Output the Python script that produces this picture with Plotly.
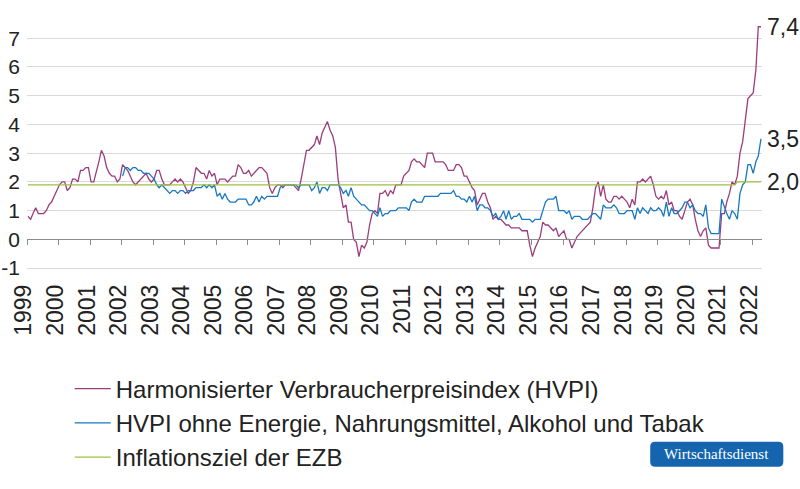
import pandas as pd
import plotly.graph_objects as go

# ---------------- data (annual rates in %) ----------------
years = [str(y) for y in range(1999, 2023)]

hvpi = (
    [0.8, 0.7, 0.9, 1.1, 0.9, 0.9, 0.9, 1.0, 1.2, 1.3, 1.5, 1.7]      # 1999
    + [1.9, 2.0, 2.0, 1.7, 1.8, 2.1, 2.1, 2.0, 2.4, 2.4, 2.5, 2.5]    # 2000
    + [2.0, 2.0, 2.3, 2.7, 3.1, 2.9, 2.5, 2.3, 2.2, 2.2, 2.0, 2.1]    # 2001
    + [2.6, 2.5, 2.4, 2.2, 2.0, 1.9, 2.0, 2.1, 2.2, 2.3, 2.1, 2.0]    # 2002
    + [2.1, 2.4, 2.4, 2.1, 1.9, 1.9, 1.9, 2.0, 2.1, 2.0, 2.1, 2.0]    # 2003
    + [1.8, 1.6, 1.7, 2.0, 2.5, 2.4, 2.3, 2.3, 2.1, 2.4, 2.2, 2.3]    # 2004
    + [1.9, 2.1, 2.1, 2.1, 2.0, 2.1, 2.2, 2.2, 2.6, 2.5, 2.3, 2.3]    # 2005
    + [2.4, 2.2, 2.3, 2.4, 2.5, 2.5, 2.4, 2.3, 1.8, 1.6, 1.8, 1.9]    # 2006
    + [1.9, 1.8, 1.9, 1.9, 1.9, 1.9, 1.8, 1.7, 2.1, 2.6, 3.1, 3.1]    # 2007
    + [3.2, 3.3, 3.6, 3.3, 3.7, 3.9, 4.1, 3.8, 3.6, 3.2, 2.1, 1.6]    # 2008
    + [1.1, 1.2, 0.6, 0.6, 0.0, -0.1, -0.6, -0.2, -0.3, -0.1, 0.5, 0.9]  # 2009
    + [1.0, 0.9, 1.6, 1.6, 1.7, 1.5, 1.7, 1.6, 1.9, 1.9, 1.9, 2.2]    # 2010
    + [2.3, 2.4, 2.7, 2.8, 2.7, 2.7, 2.6, 2.5, 3.0, 3.0, 3.0, 2.7]    # 2011
    + [2.7, 2.7, 2.7, 2.6, 2.4, 2.4, 2.4, 2.6, 2.6, 2.5, 2.2, 2.2]    # 2012
    + [2.0, 1.8, 1.7, 1.2, 1.4, 1.6, 1.6, 1.3, 1.1, 0.7, 0.8, 0.7]    # 2013
    + [0.7, 0.6, 0.5, 0.5, 0.4, 0.4, 0.4, 0.4, 0.3, 0.3, 0.3, -0.2]   # 2014
    + [-0.6, -0.3, -0.1, 0.1, 0.6, 0.5, 0.5, 0.4, 0.3, 0.4, 0.1, 0.2]  # 2015
    + [0.3, 0.0, 0.0, -0.3, -0.1, 0.1, 0.2, 0.3, 0.4, 0.5, 0.6, 1.1]  # 2016
    + [1.8, 2.0, 1.5, 1.9, 1.4, 1.3, 1.3, 1.5, 1.5, 1.4, 1.5, 1.4]    # 2017
    + [1.3, 1.1, 1.4, 1.2, 2.0, 2.0, 2.1, 2.0, 2.1, 2.2, 1.9, 1.5]    # 2018
    + [1.4, 1.5, 1.4, 1.7, 1.2, 1.3, 1.0, 1.0, 0.8, 0.7, 1.0, 1.3]    # 2019
    + [1.4, 1.2, 0.7, 0.3, 0.1, 0.3, 0.4, -0.2, -0.3, -0.3, -0.3, -0.3]  # 2020
    + [0.9, 0.9, 1.3, 1.6, 2.0, 1.9, 2.2, 3.0, 3.4, 4.1, 4.9, 5.0]    # 2021
    + [5.1, 5.9, 7.4, 7.4]                                            # 2022
)

kern = (
    [2.2, 2.5, 2.5, 2.4, 2.5, 2.5, 2.4, 2.4, 2.3, 2.3, 2.3, 2.2]      # 2002
    + [2.1, 1.9, 1.8, 1.9, 1.8, 1.7, 1.6, 1.7, 1.7, 1.6, 1.7, 1.7]    # 2003
    + [1.6, 1.7, 1.7, 1.7, 1.8, 1.8, 1.8, 1.9, 1.8, 1.9, 1.8, 1.9]    # 2004
    + [1.5, 1.6, 1.4, 1.6, 1.4, 1.3, 1.3, 1.3, 1.4, 1.4, 1.4, 1.4]    # 2005
    + [1.2, 1.2, 1.3, 1.5, 1.3, 1.5, 1.4, 1.5, 1.5, 1.5, 1.5, 1.5]    # 2006
    + [1.8, 1.9, 1.9, 1.9, 1.9, 1.9, 1.9, 1.8, 1.9, 1.9, 1.9, 1.9]    # 2007
    + [1.7, 1.8, 2.0, 1.6, 1.8, 1.8, 1.7, 1.9, 1.9, 1.9, 1.9, 1.8]    # 2008
    + [1.6, 1.7, 1.5, 1.8, 1.5, 1.4, 1.3, 1.2, 1.2, 1.1, 1.0, 1.0]    # 2009
    + [0.9, 0.8, 1.1, 0.8, 0.9, 0.9, 1.0, 1.0, 1.0, 1.1, 1.1, 1.1]    # 2010
    + [1.1, 1.0, 1.3, 1.4, 1.3, 1.3, 1.3, 1.5, 1.5, 1.5, 1.5, 1.5]    # 2011
    + [1.5, 1.6, 1.6, 1.6, 1.6, 1.6, 1.7, 1.5, 1.5, 1.4, 1.4, 1.3]    # 2012
    + [1.5, 1.3, 1.5, 1.0, 1.2, 1.2, 1.1, 1.1, 1.0, 0.8, 0.9, 0.7]    # 2013
    + [0.8, 1.0, 0.7, 1.0, 0.7, 0.8, 0.8, 0.9, 0.7, 0.7, 0.7, 0.7]    # 2014
    + [0.6, 0.7, 0.7, 0.7, 1.0, 1.3, 1.4, 1.4, 1.4, 1.5, 1.0, 1.0]    # 2015
    + [1.0, 0.9, 1.0, 0.7, 0.8, 0.8, 0.8, 0.7, 0.7, 0.7, 0.8, 0.9]    # 2016
    + [0.9, 0.8, 0.7, 1.2, 1.1, 1.1, 1.1, 1.2, 1.1, 0.9, 0.9, 0.9]    # 2017
    + [1.0, 1.0, 1.0, 0.7, 1.1, 0.9, 1.1, 1.0, 0.9, 1.1, 1.0, 1.0]    # 2018
    + [1.1, 1.0, 0.8, 1.3, 0.8, 1.1, 0.9, 0.9, 1.0, 1.1, 1.3, 1.3]    # 2019
    + [1.1, 1.2, 1.0, 0.9, 0.9, 0.8, 1.2, 0.4, 0.2, 0.2, 0.2, 0.2]    # 2020
    + [1.4, 1.1, 0.9, 0.7, 1.0, 0.9, 0.7, 1.6, 1.9, 2.0, 2.6, 2.6]    # 2021
    + [2.3, 2.7, 2.9, 3.5]                                            # 2022
)

ziel = [1.9] * 270 + [2.0] * 10   # Jan 1999 - Jun 2021: 1.9 ("unter, aber nahe 2 %"), ab Jul 2021: 2.0

y_ticks = [-1, 0, 1, 2, 3, 4, 5, 6, 7]
y_tick_text = ["-1", "0", "1", "2", "3", "4", "5", "6", "7"]

names = [
    "Harmonisierter Verbraucherpreisindex (HVPI)",
    "HVPI ohne Energie, Nahrungsmittel, Alkohol und Tabak",
    "Inflationsziel der EZB",
]

# ---------------- styling / geometry ----------------
W, H = 800, 489
PURPLE = "#9b3d7d"
BLUE = "#1877c2"
GREEN = "#9cc23c"
TEXT = "#222222"
GRID = "#d9d9d9"
AXIS = "#8c8c8c"
FONT = "Liberation Sans, Arial, sans-serif"

L_PX, R_PX = 27.3, 761.7
Y_RANGE = [-1.1, 7.6]
PX_PER_UNIT = 28.7
ZERO_PX = 239.0
T_PX = ZERO_PX - Y_RANGE[1] * PX_PER_UNIT
B_PX = ZERO_PX - Y_RANGE[0] * PX_PER_UNIT
PLOT_W = R_PX - L_PX
PLOT_H = B_PX - T_PX


def px_x(px):
    return (px - L_PX) / PLOT_W


def px_y(py):
    return (B_PX - py) / PLOT_H


months_all = pd.date_range("1999-01-01", periods=len(hvpi), freq="MS") + pd.Timedelta(days=11)
months_kern = pd.date_range("2002-01-01", periods=len(kern), freq="MS") + pd.Timedelta(days=11)
months_ziel = pd.date_range("1999-01-01", periods=len(ziel), freq="MS") + pd.Timedelta(days=11)
tick_dates = [f"{y}-01-01" for y in years]

fig = go.Figure()
fig.add_trace(go.Scatter(x=months_all, y=hvpi, mode="lines", name=names[0],
                         line=dict(color=PURPLE, width=1.3), legendgroup="a"))
fig.add_trace(go.Scatter(x=months_kern, y=kern, mode="lines", name=names[1],
                         line=dict(color=BLUE, width=1.3), legendgroup="b"))
fig.add_trace(go.Scatter(x=months_ziel, y=ziel, mode="lines", name=names[2],
                         line=dict(color=GREEN, width=1.3, shape="linear"), legendgroup="c"))

# end labels
for series, dates in [(hvpi, months_all), (kern, months_kern), (ziel, months_ziel)]:
    fig.add_annotation(x=dates[-1], y=series[-1], xref="x", yref="y",
                       text=f"{series[-1]:.1f}".replace(".", ","),
                       showarrow=False, xanchor="left", yanchor="middle", xshift=4,
                       font=dict(family=FONT, size=23, color=TEXT))

# Wirtschaftsdienst badge
bx0, bx1, by0, by1, r = 650, 783, 441, 466, 5


def rounded_path(x0, y0, x1, y1, rad):
    pts = [
        f"M{px_x(x0 + rad)},{px_y(y0)}",
        f"L{px_x(x1 - rad)},{px_y(y0)}",
        f"Q{px_x(x1)},{px_y(y0)} {px_x(x1)},{px_y(y0 + rad)}",
        f"L{px_x(x1)},{px_y(y1 - rad)}",
        f"Q{px_x(x1)},{px_y(y1)} {px_x(x1 - rad)},{px_y(y1)}",
        f"L{px_x(x0 + rad)},{px_y(y1)}",
        f"Q{px_x(x0)},{px_y(y1)} {px_x(x0)},{px_y(y1 - rad)}",
        f"L{px_x(x0)},{px_y(y0 + rad)}",
        f"Q{px_x(x0)},{px_y(y0)} {px_x(x0 + rad)},{px_y(y0)}",
        "Z",
    ]
    return " ".join(pts)


fig.add_shape(type="path", xref="paper", yref="paper", path=rounded_path(bx0, by0, bx1, by1, r),
              fillcolor="#1565ae", line=dict(width=0), layer="above")
fig.add_annotation(x=px_x((bx0 + bx1) / 2), y=px_y((by0 + by1) / 2), xref="paper", yref="paper",
                   text="Wirtschaftsdienst", showarrow=False, xanchor="center", yanchor="middle",
                   font=dict(family="Liberation Serif, Times New Roman, serif", size=15, color="white"))

fig.update_layout(
    width=W, height=H,
    margin=dict(l=L_PX, r=W - R_PX, t=T_PX, b=H - B_PX, pad=0, autoexpand=False),
    paper_bgcolor="white", plot_bgcolor="white",
    font=dict(family=FONT, color=TEXT, size=21),
    showlegend=True,
    legend=dict(x=px_x(70), y=px_y(366), xanchor="left", yanchor="top",
                font=dict(family=FONT, size=24, color=TEXT),
                bgcolor="rgba(0,0,0,0)", tracegroupgap=1.5, itemwidth=36,
                traceorder="normal"),
    xaxis=dict(
        type="date", automargin=False,
        range=["1999-01-01", "2022-04-24"],
        anchor="free", position=(0 - Y_RANGE[0]) / (Y_RANGE[1] - Y_RANGE[0]),
        showline=True, linecolor=AXIS, linewidth=1,
        ticks="outside", ticklen=5, tickcolor=AXIS, tickwidth=1,
        tickvals=tick_dates, ticktext=years, tickangle=-90,
        tickfont=dict(family=FONT, size=23, color=TEXT),
        ticklabelstandoff=30, ticklabelshift=-3,
        showgrid=False, zeroline=False,
    ),
    yaxis=dict(
        range=Y_RANGE, automargin=False,
        tickvals=y_ticks, ticktext=y_tick_text,
        tickfont=dict(family=FONT, size=21, color=TEXT),
        showgrid=True, gridcolor=GRID, gridwidth=1,
        zeroline=False, showline=False, ticks="",
        ticklabelstandoff=6,
    ),
)

fig.write_html("out.html")
